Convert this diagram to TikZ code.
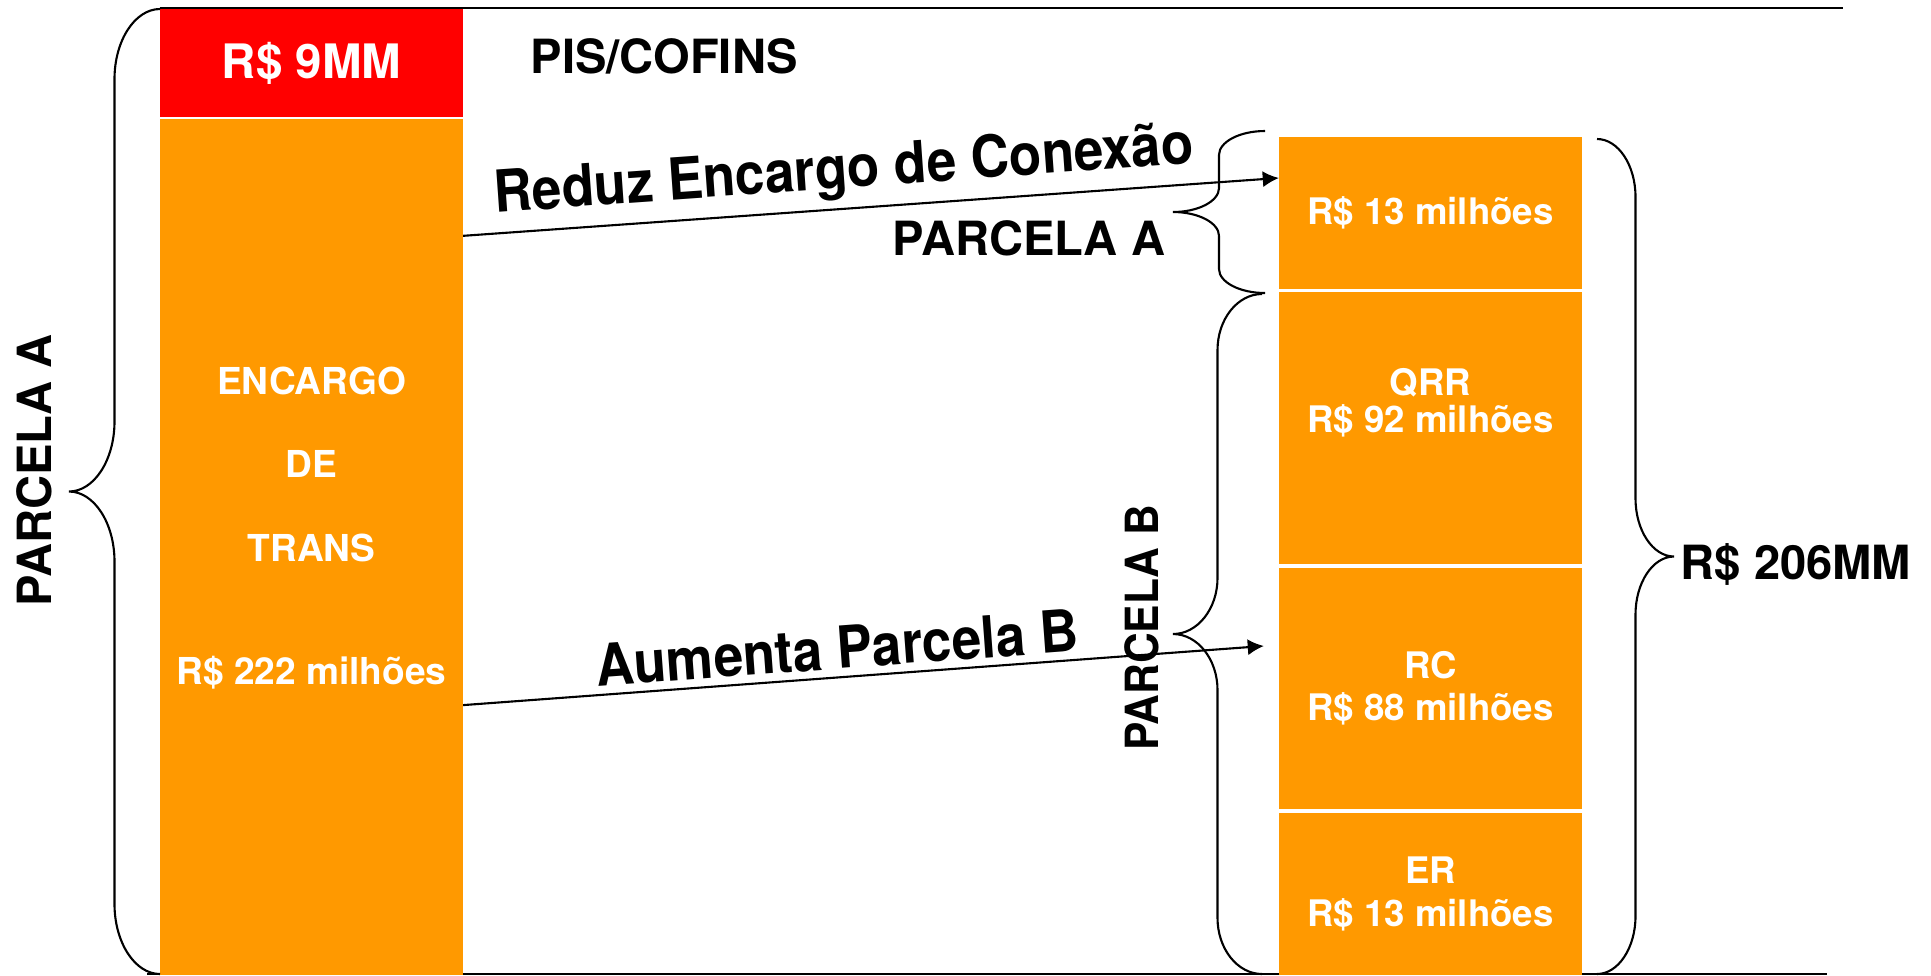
\documentclass[tikz,border=0pt]{standalone}
\usepackage{fontspec}
\setmainfont{TeX Gyre Heros}
\usetikzlibrary{arrows.meta}
\definecolor{laranja}{RGB}{255,153,0}
\definecolor{vermelho}{RGB}{255,0,0}
% chave: comprimento, profundidade, curva
\tikzset{
pics/chave/.style n args={3}{code={
	\draw (0,0)
	.. controls ({-0.275*#2},0) and ({-0.5*#2},{0.45*#3}) .. ({-0.5*#2},#3)
	-- ({-0.5*#2},{#1/2-#3})
	.. controls ({-0.5*#2},{#1/2-0.45*#3}) and ({-0.725*#2},{#1/2}) .. ({-#2},{#1/2})
	.. controls ({-0.725*#2},{#1/2}) and ({-0.5*#2},{#1/2+0.45*#3}) .. ({-0.5*#2},{#1/2+#3})
	-- ({-0.5*#2},{#1-#3})
	.. controls ({-0.5*#2},{#1-0.45*#3}) and ({-0.275*#2},#1) .. (0,#1);
}}
}
\begin{document}
\begin{tikzpicture}[x=0.01cm, y=-0.01cm, line width=0.6pt]

\tikzstyle{bloco} = [fill=laranja, inner sep=0pt, outer sep=0pt, minimum width=3.03cm, text=white, align=center, font=\bfseries\fontsize{10.4}{12}\selectfont]
\tikzstyle{topo} = [bloco, fill=vermelho, font=\bfseries\fontsize{13.5}{16}\selectfont]
\tikzstyle{txt} = [inner sep=0pt, text=white, align=center, font=\bfseries\fontsize{10.4}{12}\selectfont]
\tikzstyle{rotulo} = [inner sep=0pt, font=\bfseries\fontsize{13.4}{16}\selectfont]
\tikzstyle{seta} = [-{Latex[length=4.6pt,width=4.6pt]}]
\tikzstyle{dica} = [pos=0.47, sloped, above, inner sep=2pt, font=\bfseries\fontsize{16.5}{19}\selectfont]

\useasboundingbox (0,0) rectangle (1931,975);

% linhas
\draw (160,8) -- (1843,8);
\draw (147,974) -- (1827,974);

% coluna esquerda
\node[topo, minimum height=1.08cm] (pis) at (311.5,63) {R\$ 9MM};
\node[bloco, minimum height=8.56cm] (trans) at (311.5,547) {};
\node[txt, font=\bfseries\fontsize{10.55}{23.7}\selectfont] at (311.5,528) {ENCARGO\\DE\\TRANS\\[11.3pt]R\$ 222 milhões};
\node[rotulo] at (664,56) {PIS/COFINS};

% coluna direita
\node[bloco, minimum height=1.52cm] (con) at (1430.5,213) {R\$ 13 milhões};
\node[bloco, minimum height=2.72cm] (qrr) at (1430.5,428) {};
\node[txt] at (1430.5,403) {QRR\\[-1.4pt]R\$ 92 milhões};
\node[bloco, minimum height=2.41cm] (rc) at (1430.5,688.5) {RC\\R\$ 88 milhões};
\node[bloco, minimum height=1.62cm] (er) at (1430.5,894) {ER\\R\$ 13 milhões};

% chaves
\pic at (160,9) {chave={965}{91}{70}};
\pic[xscale=-1] at (1597,139) {chave={835}{77}{58}};
\pic at (1265,131) {chave={162}{92}{24}};
\pic at (1262,294) {chave={680}{89}{56}};

\node[rotulo, rotate=90] at (34,470) {PARCELA A};
\node[rotulo] at (1029,238) {PARCELA A};
\node[rotulo, rotate=90, font=\bfseries\fontsize{13}{15}\selectfont] at (1142,628) {\scalebox{0.93}[1]{PARCELA B}};
\node[rotulo] at (1796,564) {R\$ 206MM};

% setas
\draw[seta] ([yshift=-1.17cm]trans.north east) -- ([yshift=0.35cm]con.west)
	node[dica] {\scalebox{0.915}[1]{Reduz Encargo de Conexão}};
\draw[seta] ([yshift=-5.86cm]trans.north east) -- ([xshift=-0.15cm, yshift=0.425cm]rc.west)
	node[dica] {\scalebox{0.915}[1]{Aumenta Parcela B}};
\end{tikzpicture}
\end{document}
